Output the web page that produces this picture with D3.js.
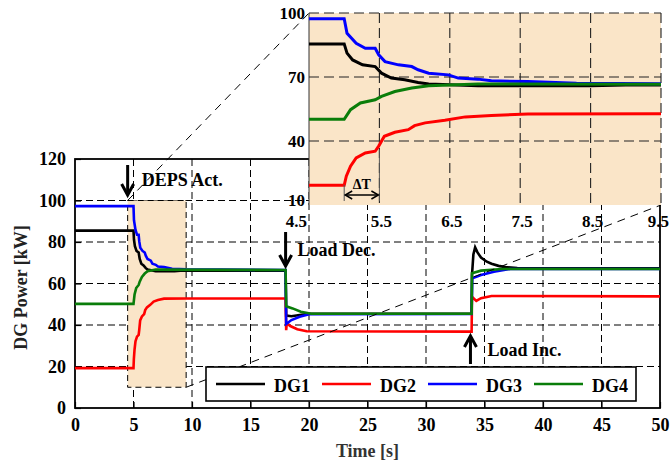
<!DOCTYPE html>
<html><head><meta charset="utf-8">
<script src="https://cdn.jsdelivr.net/npm/d3@7"></script>
<style>body{margin:0;background:#fff}svg{display:block}</style>
</head><body>
<script>
// ---- data ----
const seriesNames = ["DG1","DG2","DG3","DG4"];
const seriesColors = ["#000000","#ff0000","#0000ff","#0a7d0a"];
const dg1 = [[0,85.5],[5.0,85.5],[5.04,81.2],[5.12,78],[5.26,75.7],[5.44,74.9],[5.53,71.8],[5.67,69.5],[5.86,68.7],[6.05,67.4],[6.2,66.7],[6.9,65.9],[8.5,65.9],[9,66.2],[18.0,66.2],[18.05,44.5],[18.5,44.2],[19.2,44.8],[20,45.4],[33.9,45.4],[33.93,64],[34.05,74],[34.2,77.4],[34.4,75],[34.7,72.5],[35.2,70.5],[35.6,69.5],[36.2,68.5],[36.8,67.9],[37.8,67.4],[50,67.3]];
const dg2 = [[0,19.2],[5.0,19.2],[5.03,23.5],[5.09,28.2],[5.17,32.1],[5.3,34.4],[5.44,35.2],[5.49,37.6],[5.57,42.2],[5.72,44.1],[5.91,45.3],[6.0,47.2],[6.15,48.5],[6.43,49.7],[6.72,51.3],[7.09,52],[7.61,52.7],[9.5,52.8],[18,52.8],[18.05,37.5],[18.1,41],[18.4,39.5],[19,38],[19.8,37],[33.9,36.8],[33.93,53.6],[34.3,51.6],[34.7,52.9],[35.6,54],[50,53.8]];
const dg3 = [[0,97.3],[5.0,97.3],[5.04,90.5],[5.17,85.8],[5.3,83.5],[5.44,83.5],[5.49,80.4],[5.58,77.2],[5.77,75.7],[5.96,74.9],[6.05,73.4],[6.2,71.8],[6.48,71],[6.62,69.5],[6.9,69],[7.09,68.2],[7.61,67.9],[8.3,67.1],[9.5,66.8],[18,66.5],[18.05,40.5],[18.5,42.4],[19.2,44],[20,45.2],[33.9,45.3],[33.95,62.5],[34.7,64.1],[35.8,65.7],[37.2,67],[50,67]];
const dg4 = [[0,50.2],[5.0,50.2],[5.09,54.7],[5.23,57.8],[5.44,59.3],[5.53,60.9],[5.72,63.2],[5.96,64.8],[6.2,65.9],[6.9,66.7],[18,66.5],[18.05,49],[18.6,48],[19.3,46.4],[20.2,45.4],[33.9,45.4],[33.93,64.9],[34.7,66.2],[36.5,67],[50,67]];
const allSeries = [dg1, dg2, dg3, dg4];
const xTicks = [0,5,10,15,20,25,30,35,40,45,50];
const yTicks = [0,20,40,60,80,100,120];
const insetXTicks = [4.5,5.5,6.5,7.5,8.5,9.5];
const insetYTicks = [10,40,70,100];
const zoomX = [4.5, 9.5];
const zoomY = [10, 100];
const events = [{t:4.5,label:"DEPS Act.",dir:"down"},{t:18,label:"Load Dec.",dir:"down"},{t:33.8,label:"Load Inc.",dir:"up"}];
const deltaT = [5.0, 5.5];

// ---- layout ----
const W = 670, H = 466;
const FONT = "'Liberation Serif','Times New Roman',serif";
const tan = "#fae5c8";
const svg = d3.select("body").append("svg").attr("width", W).attr("height", H)
  .style("font-family", FONT).style("font-weight", "bold");

const x = d3.scaleLinear().domain([0,50]).range([75,660]);
const y = d3.scaleLinear().domain([0,120]).range([408,159]);
const xi = d3.scaleLinear().domain(zoomX).range([309,661]);
const yi = d3.scaleLinear().domain(zoomY).range([205,13]);

// main grid
const g = svg.append("g");
g.selectAll("line.vg").data(xTicks.slice(1,-1)).join("line")
  .attr("x1", d=>x(d)).attr("x2", d=>x(d)).attr("y1", y(120)).attr("y2", y(0))
  .attr("stroke","#000").attr("stroke-width",1).attr("stroke-dasharray","7,4");
g.selectAll("line.hg").data(yTicks.slice(1,-1)).join("line")
  .attr("x1", x(0)).attr("x2", x(50)).attr("y1", d=>y(d)).attr("y2", d=>y(d))
  .attr("stroke","#000").attr("stroke-width",1).attr("stroke-dasharray","7,4");

// zoom rectangle in main
g.append("rect").attr("x", x(zoomX[0])).attr("y", y(zoomY[1]))
  .attr("width", x(zoomX[1])-x(zoomX[0])).attr("height", y(zoomY[0])-y(zoomY[1]))
  .attr("fill", tan).attr("stroke","#000").attr("stroke-width",1).attr("stroke-dasharray","6,4");

// main axes
const xAxis = d3.axisBottom(x).tickValues(xTicks).tickSize(-6).tickPadding(10).tickFormat(d3.format("d"));
const yAxis = d3.axisLeft(y).tickValues(yTicks).tickSize(-6).tickPadding(9).tickFormat(d3.format("d"));
const gx = svg.append("g").attr("transform", `translate(0,${y(0)})`).call(xAxis);
const gy = svg.append("g").attr("transform", `translate(${x(0)},0)`).call(yAxis);
[gx, gy].forEach(a => {
  a.select(".domain").remove();
  a.selectAll("line").attr("stroke","#000").attr("stroke-width",1.2);
  a.selectAll("text").attr("fill","#000").style("font-size","18px").style("font-family",FONT).style("font-weight","bold");
});
// frame
svg.append("rect").attr("x", x(0)).attr("y", y(120)).attr("width", x(50)-x(0)).attr("height", y(0)-y(120))
  .attr("fill","none").attr("stroke","#000").attr("stroke-width",1.8);

// main lines
const lineMain = d3.line().x(d=>x(d[0])).y(d=>y(d[1]));
svg.append("g").selectAll("path").data(allSeries).join("path")
  .attr("d", lineMain).attr("fill","none").attr("stroke",(d,i)=>seriesColors[i]).attr("stroke-width",2.6);

// connector lines
svg.append("line").attr("x1", x(zoomX[0])).attr("y1", y(zoomY[1])).attr("x2", xi(zoomX[0])).attr("y2", yi(zoomY[1]))
  .attr("stroke","#000").attr("stroke-width",1).attr("stroke-dasharray","8,6");
svg.append("line").attr("x1", x(zoomX[1])).attr("y1", y(zoomY[0])).attr("x2", xi(zoomX[1])).attr("y2", yi(zoomY[0]))
  .attr("stroke","#000").attr("stroke-width",1).attr("stroke-dasharray","8,6");

// legend
const lg = svg.append("g");
lg.append("rect").attr("x",206).attr("y",367).attr("width",430).attr("height",34)
  .attr("fill","#fff").attr("stroke","#000").attr("stroke-width",1.6);
seriesNames.forEach((n,i)=>{
  const lx = 216 + i*106;
  lg.append("line").attr("x1",lx).attr("x2",lx+49).attr("y1",384).attr("y2",384)
    .attr("stroke",seriesColors[i]).attr("stroke-width",2.6);
  lg.append("text").attr("x",lx+58).attr("y",392).text(n).style("font-size","18px").attr("fill","#000");
});

// events annotations
function arrow(xp, y1, y2) {
  const dirn = Math.sign(y2-y1);
  svg.append("line").attr("x1",xp).attr("x2",xp).attr("y1",y1).attr("y2",y2-dirn*2)
    .attr("stroke","#000").attr("stroke-width",3);
  svg.append("path").attr("d",`M${xp-6},${y2-dirn*11} L${xp},${y2} L${xp+6},${y2-dirn*11}`)
    .attr("fill","none").attr("stroke","#000").attr("stroke-width",3).attr("stroke-linejoin","miter");
}
const ev0 = events[0], ev1 = events[1], ev2 = events[2];
arrow(x(ev0.t), 165, 195);
svg.append("text").attr("x", x(ev0.t)+14).attr("y",186).text(ev0.label).style("font-size","18px");
arrow(x(ev1.t), 232, 266);
svg.append("text").attr("x", x(ev1.t)+12).attr("y",256).text(ev1.label).style("font-size","18px");
arrow(x(ev2.t), 364, 336);
svg.append("text").attr("x", x(ev2.t)+17).attr("y",356).text(ev2.label).style("font-size","18px");

// axis titles
svg.append("text").attr("x", (x(0)+x(50))/2).attr("y",457).attr("text-anchor","middle")
  .text("Time [s]").style("font-size","18px").attr("fill","#333");
svg.append("text").attr("transform",`translate(27,${(y(0)+y(120))/2+4}) rotate(-90)`).attr("text-anchor","middle")
  .text("DG Power [kW]").style("font-size","18px").attr("fill","#222");

// ---- inset ----
const ig = svg.append("g");
ig.append("rect").attr("x", xi(zoomX[0])).attr("y", yi(zoomY[1]))
  .attr("width", xi(zoomX[1])-xi(zoomX[0])).attr("height", yi(zoomY[0])-yi(zoomY[1])).attr("fill", tan);
ig.selectAll("line.ivg").data(insetXTicks.slice(1)).join("line")
  .attr("x1", d=>xi(d)).attr("x2", d=>xi(d)).attr("y1", yi(100)).attr("y2", yi(10))
  .attr("stroke","#222").attr("stroke-width",1.1).attr("stroke-dasharray","10,5");
ig.selectAll("line.ihg").data(insetYTicks.slice(1)).join("line")
  .attr("x1", xi(4.5)).attr("x2", xi(9.5)).attr("y1", d=>yi(d)).attr("y2", d=>yi(d))
  .attr("stroke","#222").attr("stroke-width",1.1).attr("stroke-dasharray","10,5");
ig.append("line").attr("x1", xi(4.5)).attr("x2", xi(4.5)).attr("y1", yi(100)).attr("y2", yi(10))
  .attr("stroke","#333").attr("stroke-width",1);
svg.append("clipPath").attr("id","ic").append("rect").attr("x", xi(zoomX[0])).attr("y", yi(zoomY[1]))
  .attr("width", xi(zoomX[1])-xi(zoomX[0])).attr("height", yi(zoomY[0])-yi(zoomY[1]));
const lineIn = d3.line().x(d=>xi(d[0])).y(d=>yi(d[1]));
ig.append("g").attr("clip-path","url(#ic)").selectAll("path").data(allSeries).join("path")
  .attr("d", lineIn).attr("fill","none").attr("stroke",(d,i)=>seriesColors[i]).attr("stroke-width",3);
// inset tick labels
const nX = insetXTicks.length;
ig.selectAll("text.ixl").data(insetXTicks).join("text")
  .attr("x", (d,i)=> i===0 ? xi(d)-2 : (i===nX-1 ? W-1 : xi(d)+2))
  .attr("y", 227)
  .attr("text-anchor",(d,i)=> i===0 || i===nX-1 ? "end" : "middle")
  .text(d=>d.toFixed(1)).style("font-size","17px");
ig.selectAll("text.iyl").data(insetYTicks).join("text")
  .attr("x", xi(4.5)-4).attr("y", d=> d===zoomY[0] ? yi(d)+1 : yi(d)+6).attr("text-anchor","end").text(d=>d).style("font-size","17px");
// delta T annotation
const dx0 = xi(deltaT[0]), dx1 = xi(deltaT[1]);
ig.append("line").attr("x1",dx0).attr("x2",dx0).attr("y1",yi(19.5)).attr("y2",201).attr("stroke","#555").attr("stroke-width",1);
ig.append("line").attr("x1",dx1).attr("x2",dx1).attr("y1",yi(36)).attr("y2",201).attr("stroke","#555").attr("stroke-width",1);
ig.append("line").attr("x1",dx0+2).attr("x2",dx1-2).attr("y1",195).attr("y2",195).attr("stroke","#000").attr("stroke-width",1.5);
ig.append("path").attr("d",`M${dx0+8},${191} L${dx0+1},195 L${dx0+8},199 M${dx1-8},191 L${dx1-1},195 L${dx1-8},199`)
  .attr("fill","none").attr("stroke","#000").attr("stroke-width",1.5);
ig.append("text").attr("x",(dx0+dx1)/2).attr("y",189).attr("text-anchor","middle").text("ΔT").style("font-size","14px");
</script>
</body></html>
